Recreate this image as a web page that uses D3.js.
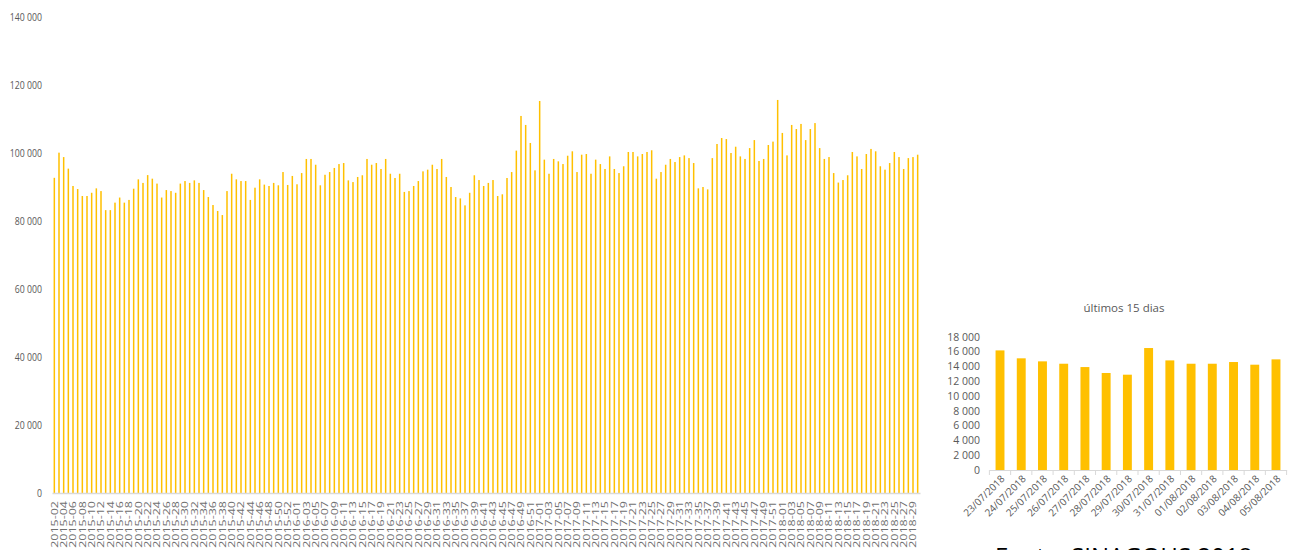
<!DOCTYPE html>
<html><head><meta charset="utf-8">
<script src="https://cdn.jsdelivr.net/npm/d3@7"></script>
<style>
body{margin:0;background:#fff;overflow:hidden}
svg{display:block}
text{font-family:"Open Sans",sans-serif;fill:#595959}
</style>
</head><body><svg id="c" width="1293" height="550"></svg>
<script>
const weekLabels = [
"2015-02","2015-03","2015-04","2015-05","2015-06","2015-07","2015-08","2015-09","2015-10","2015-11","2015-12","2015-13","2015-14","2015-15","2015-16","2015-17","2015-18","2015-19","2015-20","2015-21","2015-22","2015-23","2015-24","2015-25","2015-26","2015-27","2015-28","2015-29","2015-30","2015-31","2015-32","2015-33","2015-34","2015-35","2015-36","2015-37","2015-38","2015-39","2015-40","2015-41","2015-42","2015-43","2015-44","2015-45","2015-46","2015-47","2015-48","2015-49","2015-50","2015-51","2015-52","2015-53",
"2016-01","2016-02","2016-03","2016-04","2016-05","2016-06","2016-07","2016-08","2016-09","2016-10","2016-11","2016-12","2016-13","2016-14","2016-15","2016-16","2016-17","2016-18","2016-19","2016-20","2016-21","2016-22","2016-23","2016-24","2016-25","2016-26","2016-27","2016-28","2016-29","2016-30","2016-31","2016-32","2016-33","2016-34","2016-35","2016-36","2016-37","2016-38","2016-39","2016-40","2016-41","2016-42","2016-43","2016-44","2016-45","2016-46","2016-47","2016-48","2016-49","2016-50","2016-51","2016-52",
"2017-01","2017-02","2017-03","2017-04","2017-05","2017-06","2017-07","2017-08","2017-09","2017-10","2017-11","2017-12","2017-13","2017-14","2017-15","2017-16","2017-17","2017-18","2017-19","2017-20","2017-21","2017-22","2017-23","2017-24","2017-25","2017-26","2017-27","2017-28","2017-29","2017-30","2017-31","2017-32","2017-33","2017-34","2017-35","2017-36","2017-37","2017-38","2017-39","2017-40","2017-41","2017-42","2017-43","2017-44","2017-45","2017-46","2017-47","2017-48","2017-49","2017-50","2017-51","2017-52",
"2018-01","2018-02","2018-03","2018-04","2018-05","2018-06","2018-07","2018-08","2018-09","2018-10","2018-11","2018-12","2018-13","2018-14","2018-15","2018-16","2018-17","2018-18","2018-19","2018-20","2018-21","2018-22","2018-23","2018-24","2018-25","2018-26","2018-27","2018-28","2018-29","2018-30"
];
const weeklyValues = [
92700,100100,98800,95400,90300,89400,87350,87350,88300,89600,88800,83200,83200,85400,86900,85400,86200,89500,92250,91200,93500,92450,91000,86900,89100,88800,88300,91000,91750,91200,91950,91200,89100,87050,84700,82950,81750,
88800,93900,92250,91750,91750,86200,89800,92250,90700,90300,91200,90500,94400,90600,93250,
90800,94100,98250,98250,96550,90500,93600,94400,95600,96750,97050,91950,91450,92950,93450,98250,96550,97050,95300,98250,93900,92650,
93900,88550,88800,90300,91750,94600,95100,96550,95300,98250,92950,90000,87050,86650,84600,88300,93450,92050,90300,91200,92050,87350,87850,92650,94400,100700,110900,108250,102950,94900,
115300,98050,93900,98250,97550,96750,
99200,100500,94400,99500,99700,93900,98050,96750,95300,99000,95300,94100,96100,100300,100300,99000,99700,100300,100800,92450,94400,96550,98250,97350,98800,99300,98500,97050,89600,90000,89300,98500,102650,104400,104100,100000,
101850,99000,98250,101450,103800,97650,98250,102350,103350,115600,
105900,99300,108250,107050,108550,103800,107050,108800,101450,98250,98800,94100,91300,92050,93450,100300,99000,95300,99700,101200,100500,96100,95100,97050,100300,98800,95300,98500,98800,99500
];
const mainTicks = [0,20000,40000,60000,80000,100000,120000,140000];

const dayLabels = ["23/07/2018","24/07/2018","25/07/2018","26/07/2018","27/07/2018","28/07/2018","29/07/2018","30/07/2018","31/07/2018","01/08/2018","02/08/2018","03/08/2018","04/08/2018","05/08/2018"];
const dayValues = [16150,15080,14670,14350,13900,13100,12870,16470,14800,14350,14350,14580,14220,14940];
const dayTicks = [0,2000,4000,6000,8000,10000,12000,14000,16000,18000];
const smallTitle = "últimos 15 dias";
const sourceNote = "Fonte: SINAGOHS 2018";

const loc = d3.formatLocale({decimal:",", thousands:" ", grouping:[3], currency:["",""]});
const fmt = loc.format(",d");
const svg = d3.select("#c");
const barColor = "#FFC000";
const axisColor = "#D9D9D9";
const squeeze = 0.76;

// ---- main chart ----
const x = d3.scaleBand().domain(weekLabels).range([52, 920]);
const y = d3.scaleLinear().domain([0, 140000]).range([493, 17]);
const main = svg.append("g");
main.selectAll("rect.bar").data(weekLabels).join("rect")
  .attr("class","bar")
  .attr("x", d => x(d) + x.bandwidth()/2 - 0.75)
  .attr("width", 1.5)
  .attr("y", (d,i) => y(weeklyValues[i]))
  .attr("height", (d,i) => y(0) - y(weeklyValues[i]))
  .attr("fill", barColor);

const yAx = main.append("g").attr("transform","translate(52,0)")
  .call(d3.axisLeft(y).tickValues(mainTicks).tickFormat(fmt).tickSize(0).tickPadding(10));
yAx.select(".domain").remove();
yAx.selectAll("text")
  .attr("x", -10/squeeze)
  .attr("transform", `scale(${squeeze},1)`)
  .style("font-size","11.5px").style("fill","#595959");

const xAx = main.append("g").attr("transform","translate(0,493)")
  .call(d3.axisBottom(x).tickValues(weekLabels.filter((d,i)=>i%2===0)).tickSize(0).tickSizeOuter(0));
xAx.select(".domain").attr("stroke", axisColor).attr("stroke-width",1.5);
xAx.selectAll("text")
  .attr("transform",`scale(${squeeze},1) rotate(-90)`)
  .attr("text-anchor","end")
  .attr("x",-8).attr("y",0).attr("dy","0.35em")
  .style("font-size","12.5px").style("fill","#6f6f6f");

// ---- small chart ----
const xs = d3.scaleBand().domain(dayLabels).range([989.4, 1286.6]).paddingInner(0.58).paddingOuter(0.29);
const ys = d3.scaleLinear().domain([0, 18000]).range([470, 336.7]);
const small = svg.append("g");
small.append("text").attr("x",1124).attr("y",312).attr("text-anchor","middle")
  .style("font-size","11.5px").text(smallTitle);
small.selectAll("rect.sbar").data(dayLabels).join("rect")
  .attr("class","sbar")
  .attr("x", d => xs(d))
  .attr("width", xs.bandwidth())
  .attr("y", (d,i) => ys(dayValues[i]))
  .attr("height", (d,i) => ys(0) - ys(dayValues[i]))
  .attr("fill", barColor);
const ysAx = small.append("g").attr("transform","translate(989,0)")
  .call(d3.axisLeft(ys).tickValues(dayTicks).tickFormat(fmt).tickSize(0).tickPadding(9));
ysAx.select(".domain").remove();
ysAx.selectAll("text").style("font-size","10.5px").style("fill","#595959");

const xsAx = small.append("g").attr("transform","translate(0,470)")
  .call(d3.axisBottom(xs).tickSize(0).tickSizeOuter(0));
xsAx.select(".domain").attr("stroke", axisColor).attr("stroke-width",1.2);
xsAx.selectAll("text")
  .attr("transform","rotate(-45)")
  .attr("text-anchor","end")
  .attr("x",-3).attr("y",7).attr("dy","0.35em")
  .style("font-size","10px").style("fill","#595959");
const bounds = dayLabels.map(d => xs(d) - xs.step()*xs.paddingInner()/2).concat([xs.range()[1]]);
small.selectAll("line.tk").data(bounds).join("line")
  .attr("class","tk")
  .attr("x1", d => d).attr("x2", d => d)
  .attr("y1",470).attr("y2",475)
  .attr("stroke", axisColor).attr("stroke-width",1);

// ---- source note (cut off at bottom edge, as in the reference) ----
svg.append("text").attr("x",995).attr("y",565)
  .style("font-family","'Open Sans',sans-serif").style("font-size","24px")
  .style("fill","#000").text(sourceNote);
</script>
</body></html>
